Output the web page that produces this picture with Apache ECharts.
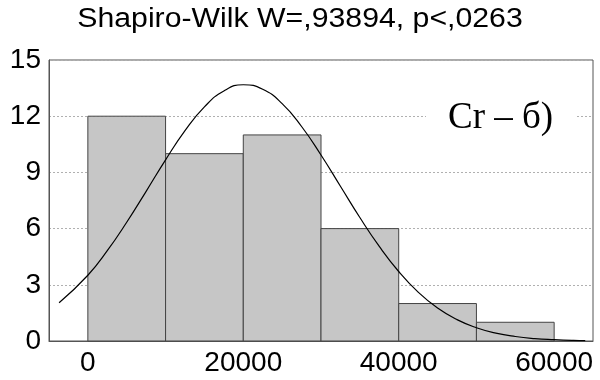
<!DOCTYPE html>
<html>
<head>
<meta charset="utf-8">
<script src="https://cdn.jsdelivr.net/npm/echarts@6/dist/echarts.min.js"></script>
<style>
  html, body { margin: 0; padding: 0; background: #fff; }
  #chart { width: 600px; height: 380px; }
</style>
</head>
<body>
<div id="chart"></div>
<script>
// Histogram bins: [lower edge, upper edge]
const binStarts = [0, 10000, 20000, 30000, 40000, 50000];
const binEnds = [10000, 20000, 30000, 40000, 50000, 60000];
const binCounts = [12, 10, 11, 6, 2, 1];

// Fitted normal curve (expected counts per bin)
const curveX = [-3700, 0, 2500, 5000, 7500, 10000, 12500, 15000, 17500, 20000, 22500,
  25000, 27500, 30000, 32500, 35000, 37500, 40000, 42500, 45000, 47500, 50000,
  52500, 55000, 57500, 60000, 62500, 64000];
const curveY = [2.04, 3.51, 4.82, 6.34, 7.99, 9.67, 11.23, 12.50, 13.35, 13.68, 13.44,
  12.67, 11.45, 9.93, 8.26, 6.59, 5.05, 3.71, 2.61, 1.76, 1.14, 0.71,
  0.42, 0.24, 0.13, 0.07, 0.03, 0.02];

const xTickLabels = [0, 20000, 40000, 60000];

const titleText = 'Shapiro-Wilk W=,93894, p<,0263';
const panelText = 'Cr – б)';

const histData = binStarts.map((s, i) => [s, binEnds[i], binCounts[i]]);
const curveData = curveX.map((x, i) => [x, curveY[i]]);

const chart = echarts.init(document.getElementById('chart'), null, { renderer: 'canvas' });

chart.setOption({
  animation: false,
  backgroundColor: '#ffffff',
  grid: {
    left: 49, right: 7, top: 60, bottom: 39,
    show: true, borderColor: '#555', borderWidth: 1, backgroundColor: 'transparent'
  },
  xAxis: {
    type: 'value',
    min: -5000,
    max: 65000,
    axisLine: { show: true, onZero: false, lineStyle: { color: '#555', width: 1 } },
    axisTick: { show: false },
    splitLine: { show: false },
    axisLabel: {
      customValues: xTickLabels,
      formatter: function (v) { return String(v); },
      color: '#000',
      fontFamily: 'Liberation Sans, Arial, sans-serif',
      fontSize: 28,
      margin: 8
    }
  },
  yAxis: {
    type: 'value',
    min: 0,
    max: 15,
    interval: 3,
    axisLine: { show: true, onZero: false, lineStyle: { color: '#555', width: 1 } },
    axisTick: { show: false },
    splitLine: { show: true, lineStyle: { color: '#b0b0b0', type: [2, 2], width: 1 } },
    axisLabel: {
      color: '#000',
      fontFamily: 'Liberation Sans, Arial, sans-serif',
      fontSize: 28,
      margin: 8
    }
  },
  graphic: [
    {
      // chart title, slightly widened
      type: 'text',
      x: 300,
      y: 20,
      scaleX: 1.12,
      style: {
        text: titleText,
        fontFamily: 'Liberation Sans, Arial, sans-serif',
        fontSize: 27,
        fill: '#000',
        align: 'center',
        verticalAlign: 'middle'
      }
    },
    {
      // panel tag inside the plot, on a white patch over the grid line
      type: 'text',
      x: 426,
      y: 118,
      z: 10,
      style: {
        text: panelText,
        fontFamily: 'Liberation Serif, Times New Roman, serif',
        fontSize: 37,
        fill: '#000',
        verticalAlign: 'middle',
        backgroundColor: '#fff',
        padding: [0, 22, 0, 22]
      }
    }
  ],
  series: [
    {
      type: 'custom',
      data: histData,
      encode: { x: [0, 1], y: 2 },
      renderItem: function (params, api) {
        const p0 = api.coord([api.value(0), 0]);
        const p1 = api.coord([api.value(1), api.value(2)]);
        return {
          type: 'rect',
          shape: { x: p0[0], y: p1[1], width: p1[0] - p0[0], height: p0[1] - p1[1] },
          style: { fill: '#c6c6c6', stroke: '#444', lineWidth: 1 }
        };
      },
      z: 2
    },
    {
      type: 'line',
      data: curveData,
      smooth: true,
      showSymbol: false,
      lineStyle: { color: '#000', width: 1.2 },
      z: 3
    }
  ]
});
</script>
</body>
</html>
